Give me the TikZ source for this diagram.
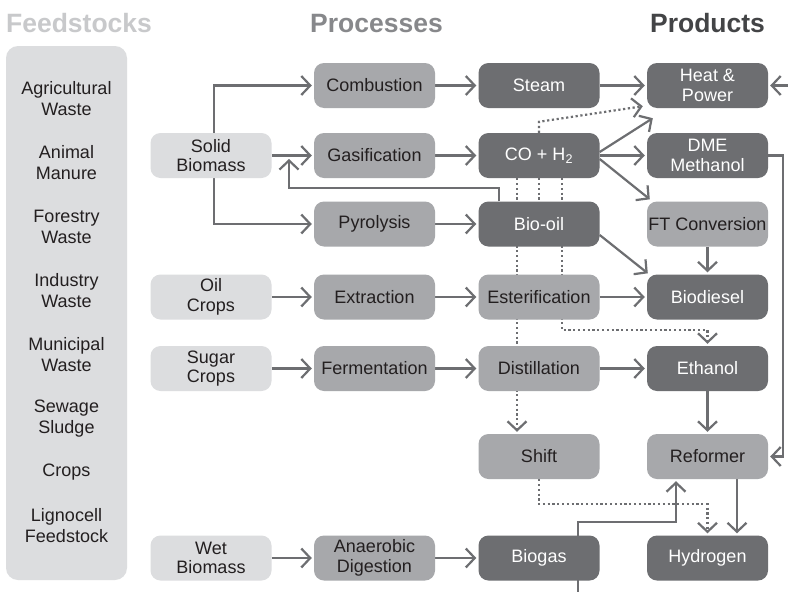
\documentclass[tikz,border=0pt]{standalone}
\usepackage{fontspec}
\setmainfont{Liberation Sans}
\usetikzlibrary{arrows.meta,calc}
\pgfdeclarelayer{background}
\pgfsetlayers{background,main}
\definecolor{lightbox}{HTML}{DCDDDF}
\definecolor{midbox}{HTML}{A7A8AB}
\definecolor{darkbox}{HTML}{6D6E71}
\definecolor{linecol}{HTML}{6D6E71}
\definecolor{txt}{HTML}{231F20}
\definecolor{tfeed}{HTML}{C8C9CB}
\definecolor{tproc}{HTML}{87888B}
\definecolor{tprod}{HTML}{434446}
\begin{document}
\begin{tikzpicture}[x=1pt,y=-1pt,
 box/.style={rounded corners=10pt, minimum width=121pt, minimum height=45pt, inner sep=0pt, align=center, font=\fontsize{18}{19.5}\selectfont},
 lbox/.style={box, fill=lightbox, text=txt},
 mbox/.style={box, fill=midbox, text=txt},
 dbox/.style={box, fill=darkbox, text=white},
 arr/.style={draw=linecol, line width=2.2pt, -{Straight Barb[length=9pt,width=19pt,line width=2.2pt]}, shorten >=2pt},
 dotarr/.style={arr, dash pattern=on 2.2pt off 2.6pt},
 dotline/.style={draw=linecol, line width=2.2pt, dash pattern=on 2.2pt off 2.6pt},
 title/.style={anchor=base, inner sep=0pt, font=\fontsize{26.5}{30}\selectfont\bfseries},
 fsitem/.style={align=center, text=txt, font=\fontsize{18}{21}\selectfont, inner sep=0pt}
]
\useasboundingbox (0,0) rectangle (788,592);

% titles
\node[title, text=tfeed] (tfs) at (79,32) {Feedstocks};
\node[title, text=tproc] (tpc) at (376.5,32) {Processes};
\node[title, text=tprod] (tpd) at (707.5,32) {Products};

% feedstocks panel
\node[fill=lightbox, rounded corners=12pt, minimum width=121pt, minimum height=534pt, inner sep=0pt] (fs) at (66.5,313) {};
\node[fsitem] (f1) at (66.5,98.5) {Agricultural\\Waste};
\node[fsitem] (f2) at (66.5,162.5) {Animal\\Manure};
\node[fsitem] (f3) at (66.5,226.5) {Forestry\\Waste};
\node[fsitem] (f4) at (66.5,290.5) {Industry\\Waste};
\node[fsitem] (f5) at (66.5,354.5) {Municipal\\Waste};
\node[fsitem] (f6) at (66.5,418.5) {Sewage\\Sludge};
\node[fsitem] (f7) at (66.5,472) {Crops};
\node[fsitem] (f8) at (66.5,525.5) {Lignocell\\Feedstock};

% column A
\node[lbox] (sb) at (211,155.5) {Solid\\Biomass};
\node[lbox] (oc) at (211,297) {Oil\\Crops};
\node[lbox] (sc) at (211,368.5) {Sugar\\Crops};
\node[lbox] (wb) at (211,558) {Wet\\Biomass};
% column B
\node[mbox] (comb) at (374.5,85.5) {Combustion};
\node[mbox] (gas) at (374.5,155.5) {Gasification};
\node[mbox] (pyr) at (374.5,224) {Pyrolysis};
\node[mbox] (ext) at (374.5,297) {Extraction};
\node[mbox] (ferm) at (374.5,368.5) {Fermentation};
\node[mbox] (ad) at (374.5,558) {Anaerobic\\Digestion};
% column C
\node[dbox] (steam) at (539,85.5) {Steam};
\node[dbox] (co) at (539,155.5) {CO + H\textsubscript{2}};
\node[dbox] (bio) at (539,224) {Bio-oil};
\node[mbox] (est) at (539,297) {Esterification};
\node[mbox] (dist) at (539,368.5) {Distillation};
\node[mbox] (shift) at (539,456.5) {Shift};
\node[dbox] (biogas) at (539,558) {Biogas};
% column D
\node[dbox] (hp) at (707.5,85.5) {Heat \&\\Power};
\node[dbox] (dme) at (707.5,155.5) {DME\\Methanol};
\node[mbox] (ft) at (707.5,224) {FT Conversion};
\node[dbox] (bd) at (707.5,297) {Biodiesel};
\node[dbox] (eth) at (707.5,368.5) {Ethanol};
\node[mbox] (ref) at (707.5,456.5) {Reformer};
\node[dbox] (h2) at (707.5,558) {Hydrogen};

\coordinate (fbtip) at (289,159);
\coordinate (hpin) at (788,85.5);
\coordinate (bgin) at (578,592);

\begin{pgfonlayer}{background}
\fill[white] (0,0) rectangle (788,592);
% solid biomass
\draw[arr] ($(sb.north)+(3,0)$) |- (comb.west);
\draw[arr] ($(sb.south)+(3,0)$) |- (pyr.west);
\draw[arr] (sb.east) -- (gas.west);
\draw[arr, shorten >=0pt] ($(bio.north)+(-40,0)$) -- ++(0,-13) -| (fbtip);
% horizontals
\draw[arr] (comb.east) -- (steam.west);
\draw[arr] (steam.east) -- (hp.west);
\draw[arr] (gas.east) -- (co.west);
\draw[arr] (co.east) -- (dme.west);
\draw[arr] (pyr.east) -- (bio.west);
\draw[arr] (oc.east) -- (ext.west);
\draw[arr] (ext.east) -- (est.west);
\draw[arr] (est.east) -- (bd.west);
\draw[arr] (sc.east) -- (ferm.west);
\draw[arr] (ferm.east) -- (dist.west);
\draw[arr] (dist.east) -- (eth.west);
\draw[arr] (wb.east) -- (ad.west);
\draw[arr] (ad.east) -- (biogas.west);
% diagonals
\draw[arr, shorten >=0pt] ($(co.east)+(0,-3.5)$) -- ($(hp.south west)+(6,10)$);
\draw[arr, shorten >=0pt] ($(co.east)+(0,3.5)$) -- ($(ft.north west)+(3,-2)$);
\draw[arr, shorten >=0pt] ($(bio.east)+(0,11)$) -- ($(bd.north west)+(1,-1)$);
% verticals
\draw[arr] (ft.south) -- (bd.north);
\draw[arr] (eth.south) -- (ref.north);
\draw[arr] ($(ref.south)+(29.5,0)$) -- ($(h2.north)+(29.5,0)$);
\draw[arr] (dme.east) -- ++(15,0) |- (ref.east);
\draw[arr] (hpin) -- (hp.east);
\draw[arr] (bgin) -- ++(0,-70) -| ($(ref.south)+(-31.5,0)$);
% dotted
\draw[dotline] (co.south) -- (bio.north);
\draw[dotarr, shorten >=0pt] (co.north) -- ++(0,-11) -- ($(hp.south west)+(-4,-2)$);
\draw[dotarr] ($(co.south)+(-22,0)$) -- ($(shift.north)+(-22,0)$);
\draw[dotarr] ($(co.south)+(23,0)$) -- ++(0,152) -| (eth.north);
\draw[dotarr] (shift.south) -- ++(0,25) -| (h2.north);
\end{pgfonlayer}
\end{tikzpicture}
\end{document}
